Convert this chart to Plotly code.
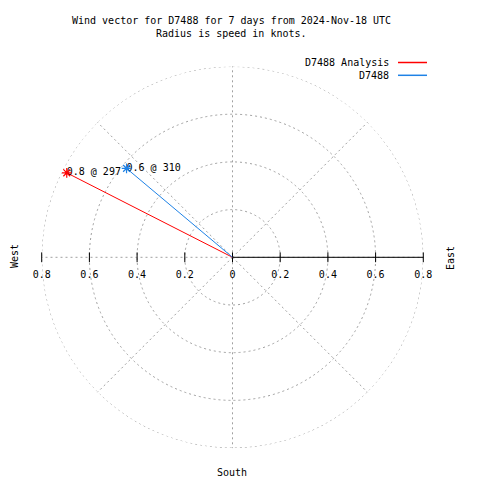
import plotly.graph_objects as go

# ---- data ----
series_names = ["D7488 Analysis", "D7488"]
speeds_knots = [0.78, 0.58]
directions_deg = [297, 310]
series_colors = ["#ff0000", "#1e82e6"]

radial_ticks = [0.0, 0.2, 0.4, 0.6, 0.8]
east_tick_labels = ["0", "0.2", "0.4", "0.6", "0.8"]
west_tick_labels = ["0.2", "0.4", "0.6", "0.8"]

title_lines = ["Wind vector for D7488 for 7 days from 2024-Nov-18 UTC",
               "Radius is speed in knots."]

W = H = 480
PAD = 8  # page body margin offset
FONT = "DejaVu Sans Mono"
cx, cy, R = 232.5 - PAD, 257.3 - PAD, 190.8  # pixel geometry of polar area
grid_col = "#a0a0a0"


def px(x):
    return (x - PAD) / W


def py(y):
    return 1 - (y - PAD) / H


fig = go.Figure()

# outer dashed grid circle
circ_theta = list(range(0, 361, 2))
fig.add_trace(go.Scatterpolar(
    r=[radial_ticks[-1]] * len(circ_theta), theta=circ_theta, mode="lines",
    line=dict(color=grid_col, width=1, dash="2px,3px"), hoverinfo="skip", showlegend=False))

# tick marks (east and west)
fig.add_trace(go.Scatterpolar(
    r=radial_ticks + radial_ticks[1:], theta=[90] * len(radial_ticks) + [270] * len(west_tick_labels),
    mode="markers",
    marker=dict(symbol="line-ns-open", size=7, color="black", line=dict(color="black", width=1)),
    hoverinfo="skip", showlegend=False))
# tick labels
fig.add_trace(go.Scatterpolar(
    r=radial_ticks + radial_ticks[1:], theta=[90] * len(radial_ticks) + [270] * len(west_tick_labels),
    mode="markers+text",
    marker=dict(size=20, color="rgba(0,0,0,0)"),
    text=east_tick_labels + west_tick_labels, textposition="bottom center",
    textfont=dict(family=FONT, size=10, color="black"),
    hoverinfo="skip", showlegend=False))

# wind vectors
for name, spd, d, col in zip(series_names, speeds_knots, directions_deg, series_colors):
    fig.add_trace(go.Scatterpolar(
        r=[0, spd], theta=[d, d], mode="lines",
        line=dict(color=col, width=1), hoverinfo="skip", showlegend=False))
    fig.add_trace(go.Scatterpolar(
        r=[spd], theta=[d], mode="text",
        text=[f"{spd:.1f} @ {d}"], textposition="middle right",
        textfont=dict(family=FONT, size=10, color="black"),
        hoverinfo="skip", showlegend=False))
    fig.add_trace(go.Scatterpolar(
        r=[spd], theta=[d], mode="markers",
        marker=dict(symbol="asterisk-open", size=8, color=col, line=dict(color=col, width=1.2)),
        hoverinfo="skip", showlegend=False))

fig.update_layout(
    width=W, height=H, margin=dict(l=0, r=0, t=0, b=0),
    paper_bgcolor="white", plot_bgcolor="white", showlegend=False,
    font=dict(family=FONT, size=10, color="black"),
    polar=dict(
        domain=dict(x=[(cx - R) / W, (cx + R) / W],
                    y=[(H - cy - R) / H, (H - cy + R) / H]),
        bgcolor="white",
        radialaxis=dict(range=[0, 0.8], tickvals=radial_ticks[1:], showticklabels=False,
                        ticks="", showline=True, linecolor="black", linewidth=1, angle=0,
                        showgrid=True, gridcolor=grid_col, griddash="2px,3px", gridwidth=1),
        angularaxis=dict(rotation=90, direction="clockwise", dtick=45, showticklabels=False,
                         ticks="", showline=False, showgrid=True, gridcolor=grid_col,
                         griddash="2px,3px", gridwidth=1),
    ),
)


def label(text, x, y, angle=0, xanchor="center"):
    fig.add_annotation(text=text, x=px(x), y=py(y), xref="paper", yref="paper", textangle=angle,
                       showarrow=False, xanchor=xanchor, yanchor="middle",
                       font=dict(family=FONT, size=10, color="black"))


# title
for i, t in enumerate(title_lines):
    label(t, 231.5, 20 + 13 * i)

# compass labels
label("West", 14, 256, angle=-90)
label("East", 450, 258, angle=-90)
label("South", 232, 472)

# legend
leg_y = [62.5, 75.3]
for name, col, ly in zip(series_names, series_colors, leg_y):
    label(name, 391, ly, xanchor="right")
    fig.add_shape(type="line", x0=px(398), x1=px(427), y0=py(ly), y1=py(ly),
                  xref="paper", yref="paper", line=dict(color=col, width=1.5))

fig.write_html("out.html")
